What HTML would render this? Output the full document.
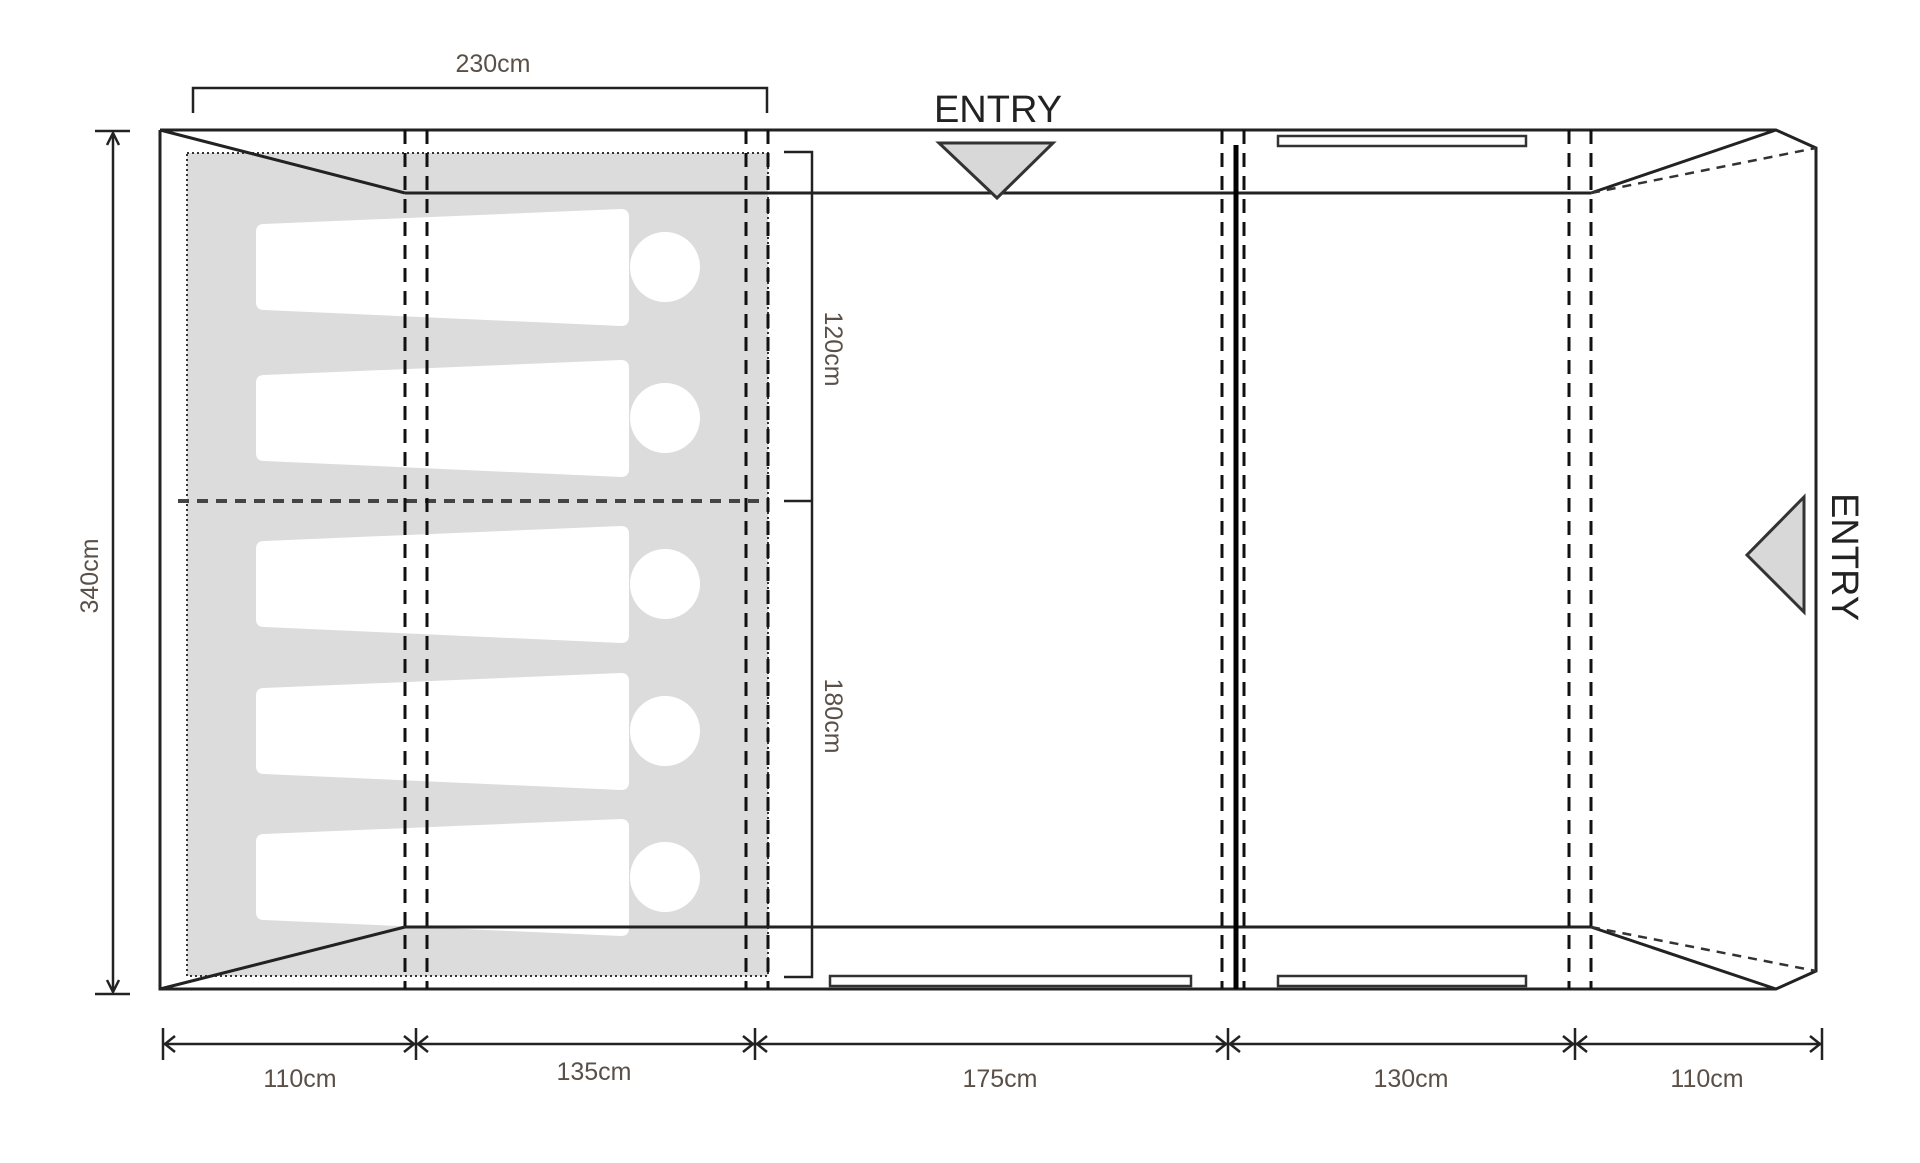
<!DOCTYPE html>
<html><head><meta charset="utf-8"><style>
html,body{margin:0;padding:0;background:#fff;}
svg{display:block;}
text{font-family:"Liberation Sans",sans-serif;fill:#5a5048;}
</style></head><body>
<svg width="1920" height="1163" viewBox="0 0 1920 1163" xmlns="http://www.w3.org/2000/svg">
<defs>
<g id="bag">
<path d="M264,-43 L621,-58 Q629,-58 629,-50 L629,51 Q629,59 621,59 L264,43 Q256,43 256,35 L256,-35 Q256,-43 264,-43 Z" fill="#fff"/>
<circle cx="665" cy="0" r="35" fill="#fff"/>
</g>
</defs>
<!-- gray bedroom -->
<rect x="187" y="153" width="581" height="823" fill="#dcdcdc" stroke="#333" stroke-width="2" stroke-dasharray="2,3"/>
<use href="#bag" y="267"/>
<use href="#bag" y="418"/>
<use href="#bag" y="584"/>
<use href="#bag" y="731"/>
<use href="#bag" y="877"/>
<line x1="178" y1="501" x2="768" y2="501" stroke="#444" stroke-width="4" stroke-dasharray="11,8"/>

<g stroke="#222" fill="none" stroke-width="3">
<!-- outer -->
<polyline points="160,130 1776,130 1816,148 1816,971 1776,989 160,989 160,130"/>
<line x1="405" y1="193" x2="1591" y2="193"/>
<line x1="405" y1="927" x2="1591" y2="927"/>
<line x1="160" y1="130" x2="405" y2="193"/>
<line x1="160" y1="989" x2="405" y2="927"/>
<line x1="1591" y1="193" x2="1776" y2="130"/>
<line x1="1591" y1="927" x2="1776" y2="989"/>
</g>
<g stroke="#333" fill="none" stroke-width="2.5" stroke-dasharray="9,7">
<line x1="1591" y1="193" x2="1816" y2="148"/>
<line x1="1591" y1="927" x2="1816" y2="971"/>
</g>
<!-- dashed verticals -->
<g stroke="#111" stroke-width="3" stroke-dasharray="14,9">
<line x1="405" y1="130" x2="405" y2="989"/>
<line x1="427" y1="130" x2="427" y2="989"/>
<line x1="746" y1="130" x2="746" y2="989"/>
<line x1="768" y1="130" x2="768" y2="989"/>
<line x1="1222" y1="130" x2="1222" y2="989"/>
<line x1="1244" y1="130" x2="1244" y2="989"/>
<line x1="1569" y1="130" x2="1569" y2="989"/>
<line x1="1591" y1="130" x2="1591" y2="989"/>
</g>
<line x1="1236" y1="145" x2="1236" y2="989" stroke="#000" stroke-width="5"/>
<!-- windows -->
<g fill="#fff" stroke="#333" stroke-width="2.5">
<rect x="1278" y="136" width="248" height="10"/>
<rect x="830" y="976" width="361" height="10"/>
<rect x="1278" y="976" width="248" height="10"/>
</g>
<!-- entry triangles -->
<polygon points="939,143 1053,143 997,198" fill="#d8d8d8" stroke="#333" stroke-width="3"/>
<polygon points="1804,497 1747,555 1804,612" fill="#d8d8d8" stroke="#333" stroke-width="3"/>
<text x="998" y="122" font-size="38" text-anchor="middle" style="fill:#222">ENTRY</text>
<text transform="translate(1832,557) rotate(90)" font-size="38" text-anchor="middle" style="fill:#222">ENTRY</text>

<!-- top bracket -->
<polyline points="193,113 193,88 767,88 767,113" fill="none" stroke="#222" stroke-width="2.5"/>
<text x="493" y="72" font-size="25" text-anchor="middle">230cm</text>
<!-- right bracket -->
<polyline points="784,152 812,152 812,977 784,977" fill="none" stroke="#222" stroke-width="2.5"/>
<line x1="784" y1="501" x2="812" y2="501" stroke="#222" stroke-width="2.5"/>
<text transform="translate(825,349) rotate(90)" font-size="25" text-anchor="middle">120cm</text>
<text transform="translate(825,716) rotate(90)" font-size="25" text-anchor="middle">180cm</text>
<!-- left 340 -->
<g stroke="#222" stroke-width="2.5" fill="none">
<line x1="95" y1="131" x2="130" y2="131"/>
<line x1="95" y1="994" x2="130" y2="994"/>
<line x1="113" y1="133" x2="113" y2="992"/>
<polyline points="107,145 113,133 119,145"/>
<polyline points="107,980 113,992 119,980"/>
</g>
<text transform="translate(98,576) rotate(-90)" font-size="25" text-anchor="middle">340cm</text>
<!-- bottom dims -->
<g stroke="#222" stroke-width="2.5" fill="none">
<line x1="163" y1="1044" x2="1822" y2="1044"/>
<line x1="163" y1="1028" x2="163" y2="1060"/>
<line x1="416" y1="1028" x2="416" y2="1060"/>
<line x1="755" y1="1028" x2="755" y2="1060"/>
<line x1="1228" y1="1028" x2="1228" y2="1060"/>
<line x1="1575" y1="1028" x2="1575" y2="1060"/>
<line x1="1822" y1="1028" x2="1822" y2="1060"/>
<polyline points="175,1036 165,1044 175,1052"/>
<polyline points="404,1036 414,1044 404,1052"/>
<polyline points="428,1036 418,1044 428,1052"/>
<polyline points="743,1036 753,1044 743,1052"/>
<polyline points="767,1036 757,1044 767,1052"/>
<polyline points="1216,1036 1226,1044 1216,1052"/>
<polyline points="1240,1036 1230,1044 1240,1052"/>
<polyline points="1563,1036 1573,1044 1563,1052"/>
<polyline points="1587,1036 1577,1044 1587,1052"/>
<polyline points="1810,1036 1820,1044 1810,1052"/>
</g>
<g font-size="25" text-anchor="middle">
<text x="300" y="1087">110cm</text>
<text x="594" y="1080">135cm</text>
<text x="1000" y="1087">175cm</text>
<text x="1411" y="1087">130cm</text>
<text x="1707" y="1087">110cm</text>
</g>
</svg>
</body></html>
